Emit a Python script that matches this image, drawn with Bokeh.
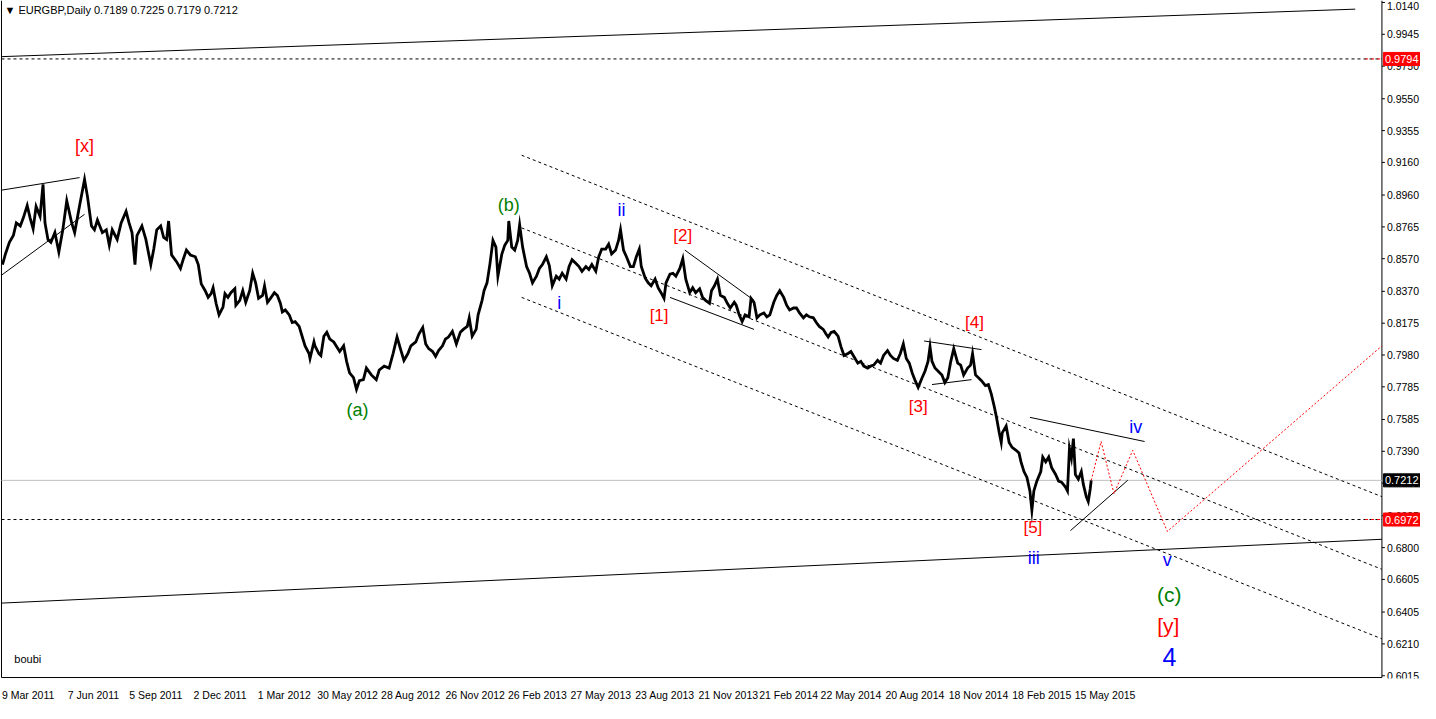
from bokeh.plotting import figure
from bokeh.models import FixedTicker, Range1d, ColumnDataSource
from bokeh.embed import file_html
from bokeh.resources import INLINE
from bokeh.core.properties import value

# ---------------- price data (bar index, close) ----------------
bars_a = [2, 5, 9, 13, 16, 20, 23, 27, 30, 33, 36, 40, 43, 45, 48, 51, 55, 59, 63, 67, 72, 75, 80, 85, 88, 92, 95, 98, 103, 107, 110, 113, 118, 122, 127, 130, 133, 136, 138, 143, 147, 152, 155, 158, 162, 165, 168, 170, 173, 178, 182, 185, 188]
close_a = [0.8534, 0.8599, 0.8670, 0.8712, 0.8789, 0.8771, 0.8819, 0.8896, 0.8819, 0.8753, 0.8890, 0.8830, 0.9026, 0.8789, 0.8688, 0.8670, 0.8730, 0.8611, 0.8747, 0.8925, 0.8789, 0.8730, 0.8896, 0.9056, 0.8949, 0.8771, 0.8747, 0.8807, 0.8730, 0.8747, 0.8653, 0.8747, 0.8688, 0.8789, 0.8860, 0.8789, 0.8730, 0.8534, 0.8712, 0.8771, 0.8688, 0.8534, 0.8629, 0.8747, 0.8771, 0.8700, 0.8688, 0.8801, 0.8593, 0.8552, 0.8510, 0.8570, 0.8623]

bars_b = [192, 197, 200, 203, 207, 210, 213, 215, 218, 221, 225, 227, 230, 233, 237, 238, 242, 245, 248, 252, 255, 258, 261, 265, 267, 270, 273, 277, 280, 283, 285, 288, 292, 295, 298, 302, 305, 308, 312, 313, 317, 318, 322, 324, 327, 330, 333, 337, 340, 343, 347, 350, 353, 357, 360, 363, 367, 370]
close_b = [0.8593, 0.8582, 0.8534, 0.8416, 0.8374, 0.8333, 0.8356, 0.8392, 0.8297, 0.8226, 0.8274, 0.8356, 0.8333, 0.8362, 0.8386, 0.8285, 0.8315, 0.8374, 0.8303, 0.8374, 0.8481, 0.8422, 0.8327, 0.8345, 0.8404, 0.8303, 0.8327, 0.8362, 0.8345, 0.8297, 0.8244, 0.8256, 0.8226, 0.8179, 0.8185, 0.8155, 0.8095, 0.8036, 0.7989, 0.7959, 0.8060, 0.8036, 0.7989, 0.7977, 0.8095, 0.8119, 0.8078, 0.8060, 0.8030, 0.8001, 0.8036, 0.7941, 0.7870, 0.7841, 0.7770, 0.7823, 0.7829, 0.7900]

bars_c = [375, 380, 383, 388, 393, 397, 401, 405, 408, 412, 415, 420, 423, 427, 430, 433, 437, 440, 443, 447, 450, 453, 457, 461, 465, 468, 472, 474, 477, 481, 483, 487, 489, 492, 495, 498, 501, 503, 507, 510, 513, 514, 517, 520, 523, 525, 528, 532, 535, 538, 542, 545, 548, 552, 555, 558]
close_c = [0.7858, 0.7829, 0.7888, 0.7912, 0.7900, 0.7989, 0.8090, 0.8007, 0.7947, 0.7989, 0.8036, 0.8060, 0.8107, 0.8149, 0.8048, 0.8019, 0.8001, 0.7971, 0.8007, 0.8036, 0.8078, 0.8090, 0.8125, 0.8048, 0.8119, 0.8137, 0.8155, 0.8208, 0.8095, 0.8137, 0.8226, 0.8315, 0.8374, 0.8422, 0.8540, 0.8682, 0.8641, 0.8463, 0.8599, 0.8653, 0.8682, 0.8801, 0.8641, 0.8623, 0.8682, 0.8777, 0.8641, 0.8522, 0.8481, 0.8422, 0.8463, 0.8510, 0.8534, 0.8582, 0.8528, 0.8404]

bars_d = [562, 565, 568, 572, 575, 578, 582, 585, 588, 592, 595, 598, 602, 605, 608, 612, 615, 618, 622, 625, 627, 630, 633, 637, 640, 643, 646, 648, 652, 655, 658, 662, 665, 668, 671, 673, 677, 680, 683, 687, 690, 693, 697, 700, 703, 707, 710, 713, 717, 719, 722, 725, 728, 732, 735, 738, 742, 744]
close_d = [0.8463, 0.8445, 0.8481, 0.8445, 0.8522, 0.8564, 0.8540, 0.8522, 0.8493, 0.8522, 0.8504, 0.8534, 0.8493, 0.8582, 0.8629, 0.8629, 0.8659, 0.8599, 0.8623, 0.8682, 0.8747, 0.8623, 0.8582, 0.8522, 0.8522, 0.8582, 0.8629, 0.8522, 0.8451, 0.8422, 0.8404, 0.8445, 0.8392, 0.8362, 0.8327, 0.8422, 0.8475, 0.8481, 0.8463, 0.8510, 0.8570, 0.8445, 0.8362, 0.8392, 0.8362, 0.8386, 0.8333, 0.8315, 0.8297, 0.8374, 0.8404, 0.8445, 0.8345, 0.8333, 0.8297, 0.8268, 0.8303, 0.8285]

bars_e = [747, 750, 753, 757, 759, 762, 765, 768, 772, 775, 778, 782, 785, 788, 792, 795, 798, 802, 805, 808, 812, 815, 818, 822, 825, 828, 832, 835, 837, 840, 843, 847, 850, 853, 857, 860, 863, 867, 870, 873, 877, 880, 883, 887, 890, 893, 897, 900, 903, 907, 910, 913, 916, 919, 922, 925, 928]
close_e = [0.8226, 0.8185, 0.8226, 0.8214, 0.8327, 0.8303, 0.8208, 0.8226, 0.8238, 0.8214, 0.8226, 0.8303, 0.8345, 0.8374, 0.8333, 0.8285, 0.8256, 0.8268, 0.8268, 0.8238, 0.8208, 0.8226, 0.8214, 0.8208, 0.8179, 0.8155, 0.8137, 0.8107, 0.8090, 0.8119, 0.8125, 0.8095, 0.8030, 0.7977, 0.7989, 0.8001, 0.7971, 0.7930, 0.7941, 0.7912, 0.7900, 0.7912, 0.7918, 0.7947, 0.7930, 0.7977, 0.8007, 0.7977, 0.7959, 0.7947, 0.7989, 0.8048, 0.7959, 0.7930, 0.7870, 0.7823, 0.7782]

bars_f = [932, 935, 938, 940, 942, 945, 948, 952, 955, 958, 961, 964, 968, 971, 974, 978, 981, 983, 986, 989, 992, 996, 999, 1002, 1005, 1007, 1010, 1012, 1013, 1017, 1020, 1023, 1027, 1030, 1032, 1035, 1038, 1041, 1043, 1045, 1048, 1052, 1054, 1057, 1060, 1063, 1067, 1070, 1073, 1077, 1079, 1081, 1083, 1085, 1087, 1090, 1093, 1095, 1098, 1100, 1102, 1103]
close_f = [0.7841, 0.7882, 0.7941, 0.8030, 0.7941, 0.7900, 0.7882, 0.7858, 0.7811, 0.7841, 0.7941, 0.8019, 0.7930, 0.7918, 0.7858, 0.7900, 0.7918, 0.7989, 0.7858, 0.7841, 0.7823, 0.7793, 0.7799, 0.7740, 0.7663, 0.7604, 0.7503, 0.7444, 0.7503, 0.7545, 0.7444, 0.7414, 0.7396, 0.7379, 0.7325, 0.7266, 0.7230, 0.7147, 0.7029, 0.7147, 0.7207, 0.7266, 0.7355, 0.7325, 0.7355, 0.7290, 0.7248, 0.7207, 0.7201, 0.7171, 0.7147, 0.7408, 0.7349, 0.7468, 0.7248, 0.7219, 0.7266, 0.7189, 0.7112, 0.7082, 0.7159, 0.7212]

# ---------------- axes ----------------
date_ticks = [2, 68, 131, 196, 261, 325, 389, 454, 517, 581, 646, 710, 771, 834, 899, 963, 1027, 1091]
date_labels = ["9 Mar 2011", "7 Jun 2011", "5 Sep 2011", "2 Dec 2011", "1 Mar 2012", "30 May 2012",
               "28 Aug 2012", "26 Nov 2012", "26 Feb 2013", "27 May 2013", "23 Aug 2013", "21 Nov 2013",
               "21 Feb 2014", "22 May 2014", "20 Aug 2014", "18 Nov 2014", "18 Feb 2015", "15 May 2015"]
price_ticks = [1.0140, 0.9945, 0.9750, 0.9550, 0.9355, 0.9160, 0.8960, 0.8765, 0.8570, 0.8370, 0.8175,
               0.7980, 0.7785, 0.7585, 0.7390, 0.7195, 0.6995, 0.6800, 0.6605, 0.6405, 0.6210, 0.6015]

# ---------------- drawn objects ----------------
trend_x0 = [1, 1, 1, 1, 692, 677, 934, 942, 1041, 1082]
trend_y0 = [0.9808, 0.6460, 0.8990, 0.8469, 0.8623, 0.8333, 0.8066, 0.7799, 0.7598, 0.6904]
trend_x1 = [1370, 1397, 80, 85, 762, 762, 992, 982, 1157, 1140]
trend_y1 = [1.0099, 0.6851, 0.9067, 0.8842, 0.8315, 0.8137, 0.8013, 0.7829, 0.7450, 0.7213]
chan_x0 = [527, 527, 527]
chan_y0 = [0.9204, 0.8759, 0.8333]
chan_x1 = [1397, 1397, 1397]
chan_y1 = [0.7112, 0.6667, 0.6241]
proj_bar = [1103, 1113, 1126, 1145, 1180, 1397]
proj_price = [0.7212, 0.7450, 0.7130, 0.7396, 0.6899, 0.8036]
level_hi = 0.9794
level_lo = 0.6972
last_price = 0.7212

wave_text = ["[x]", "(b)", "ii", "[2]", "i", "[1]", "[4]", "[3]", "(a)", "iv", "[5]", "iii", "v", "(c)", "[y]", "4"]
wave_bar = [85, 514, 628, 690, 565, 666, 985, 928, 361, 1148, 1044, 1045, 1180, 1182, 1181, 1182]
wave_price = [0.9263, 0.8896, 0.8866, 0.8712, 0.8297, 0.8220, 0.8179, 0.7663, 0.7645, 0.7539, 0.6922, 0.6738, 0.6721, 0.6513, 0.6324, 0.6128]
RED, GREEN, BLUE = "#ff0000", "#008000", "#0000ff"
wave_color = [RED, GREEN, BLUE, RED, BLUE, RED, RED, RED, GREEN, BLUE, RED, BLUE, BLUE, GREEN, RED, BLUE]
wave_size = ["18px", "18px", "18px", "17px", "18px", "17px", "17px", "17px", "18px", "18px", "17px", "18px", "18px", "21px", "21px", "25px"]

FONT = "Liberation Sans"
AXIS_X = 1397          # bar position of the price-scale line (chart's right edge)
X_END = 1436
Y_LO, Y_HI = 0.5998, 1.0152
BOTTOM = 0.6004

p = figure(width=1420, height=703, output_backend="svg", toolbar_location=None,
           x_range=Range1d(0, X_END), y_range=Range1d(Y_LO, Y_HI),
           y_axis_location=None, min_border_left=0, min_border_top=0,
           min_border_right=0, min_border_bottom=0)
p.grid.visible = False
p.outline_line_color = None
p.background_fill_color = "white"
p.border_fill_color = "white"

# x axis (dates), labels start at their tick
xa = p.xaxis[0]
shift = 26
xa.ticker = FixedTicker(ticks=[t + shift for t in date_ticks])
xa.major_label_overrides = {t + shift: lab for t, lab in zip(date_ticks, date_labels)}
xa.major_tick_line_color = None
xa.minor_tick_line_color = None
xa.major_label_standoff = 4
xa.axis_line_color = None
xa.major_label_text_font = FONT
xa.major_label_text_font_size = "10.5px"
xa.major_label_text_color = "black"

# chart borders and price scale
p.segment([1, 1, AXIS_X], [BOTTOM, BOTTOM, BOTTOM], [1, AXIS_X, AXIS_X], [Y_HI, BOTTOM, Y_HI],
          color="black", line_width=1)
p.segment([AXIS_X] * len(price_ticks), price_ticks, [AXIS_X + 3] * len(price_ticks), price_ticks,
          color="black", line_width=1)
tick_text = [f"{v:.4f}" for v in price_ticks]
tick_base = ["top"] + ["middle"] * (len(price_ticks) - 1)
p.text(x=[AXIS_X + 5] * len(price_ticks), y=price_ticks, text=tick_text, text_font=value(FONT),
       text_font_size="10.5px", text_color="black", text_baseline=tick_base, text_align="left")

# horizontal levels
p.line([1, AXIS_X], [last_price, last_price], color="#c0c0c0", line_width=1)
p.line([1, AXIS_X], [level_hi, level_hi], color="black", line_width=1, line_dash="3 3")
p.line([1, AXIS_X], [level_lo, level_lo], color="black", line_width=1, line_dash="3 3")
p.line([1380, AXIS_X], [level_hi, level_hi], color="red", line_width=1, line_dash="3 3")
p.line([1380, AXIS_X], [level_lo, level_lo], color="red", line_width=1, line_dash="3 3")

# channels and trend lines
p.segment(chan_x0, chan_y0, chan_x1, chan_y1, color="black", line_width=1, line_dash="3 3")
p.segment(trend_x0, trend_y0, trend_x1, trend_y1, color="black", line_width=1)

# price
bars = bars_a + bars_b + bars_c + bars_d + bars_e + bars_f
closes = close_a + close_b + close_c + close_d + close_e + close_f
p.line(bars, closes, color="black", line_width=2.8, line_join="miter")

# projection
p.line(proj_bar, proj_price, color="red", line_width=1, line_dash="2 2")

# wave labels
src = ColumnDataSource(dict(x=wave_bar, y=wave_price, t=wave_text, c=wave_color, s=wave_size))
p.text(x="x", y="y", text="t", text_color="c", text_font_size="s", source=src,
       text_align="center", text_baseline="middle", text_font=value(FONT))

# title and signature
p.text(x=[4], y=[1.0093], text=["\u25BC EURGBP,Daily  0.7189 0.7225 0.7179 0.7212"],
       text_font=value(FONT), text_font_size="11px", text_color="black", text_baseline="middle")
p.text(x=[14], y=[0.6116], text=["boubi"], text_font=value(FONT), text_font_size="11px",
       text_color="black", text_baseline="middle")

# price boxes on the scale
box_price = [level_hi, last_price, level_lo]
box_color = ["#ff0000", "#000000", "#ff0000"]
p.rect(x=[(AXIS_X + X_END) / 2 + 1] * 3, y=box_price, width=X_END - AXIS_X - 1, height=13,
       height_units="screen", fill_color=box_color, line_color=box_color)
p.text(x=[AXIS_X + 3] * 3, y=box_price, text=[f"{v:.4f}" for v in box_price], text_font=value(FONT),
       text_font_size="11px", text_color="white", text_baseline="middle", text_align="left")

open("out.html", "w").write(file_html(p, INLINE))
